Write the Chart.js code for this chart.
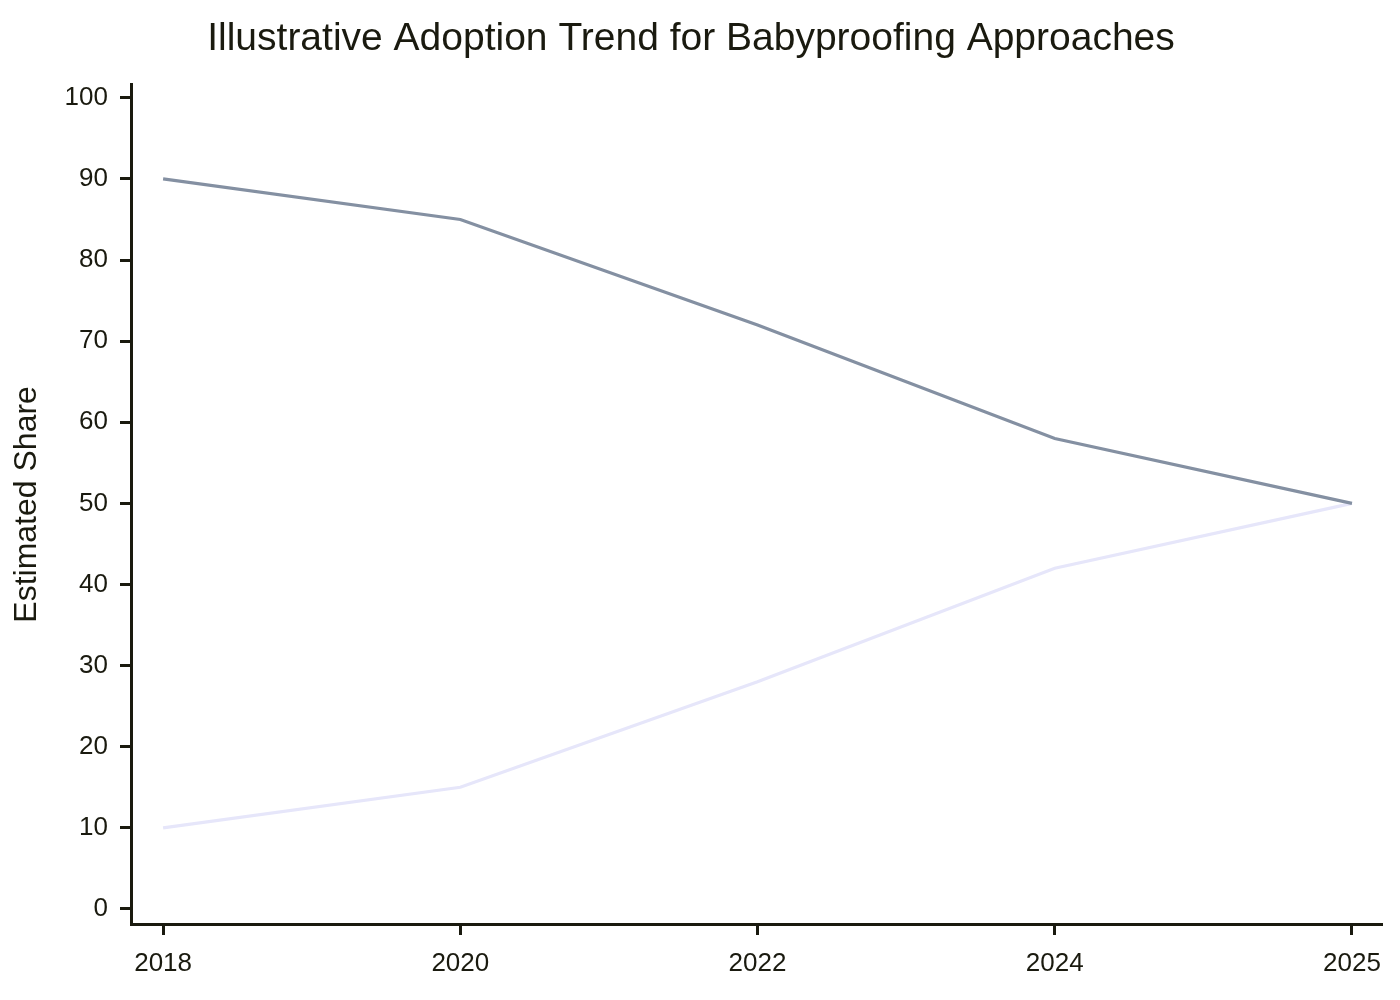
<!DOCTYPE html>
<html>
<head>
<meta charset="utf-8">
<script src="https://cdn.jsdelivr.net/npm/chart.js@4"></script>
<style>
  html, body { margin: 0; padding: 0; background: #fff; }
  #wrap { width: 1400px; height: 1000px; }
</style>
</head>
<body>
<div id="wrap"><canvas id="trendChart" width="1400" height="1000"></canvas></div>
<script>
// data
const years = ["2018", "2020", "2022", "2024", "2025"];
const traditionalShare = [90, 85, 72, 58, 50];
const modernShare = [10, 15, 28, 42, 50];
const yTicks = [0, 10, 20, 30, 40, 50, 60, 70, 80, 90, 100];

const ink = '#1a1a0f';
const fontFamily = 'Liberation Sans, Arial, sans-serif';

const toPoints = (vals) => vals.map((v, i) => ({ x: i, y: v }));

new Chart(document.getElementById('trendChart'), {
    type: 'line',
    data: {
        datasets: [{
            label: 'Traditional',
            data: toPoints(traditionalShare),
            borderColor: '#8490a2',
            borderWidth: 3.2,
            pointRadius: 0,
            tension: 0,
            fill: false
        }, {
            label: 'Modern',
            data: toPoints(modernShare),
            borderColor: '#e6e6fa',
            borderWidth: 3.2,
            pointRadius: 0,
            tension: 0,
            fill: false
        }]
    },
    options: {
        responsive: false,
        animation: false,
        layout: { padding: { left: 0, right: 18, top: 0, bottom: 0 } },
        plugins: {
            legend: { display: false },
            tooltip: { enabled: false },
            title: {
                display: true,
                text: 'Illustrative Adoption Trend for Babyproofing Approaches',
                color: ink,
                font: { family: fontFamily, size: 39, weight: 'normal', lineHeight: 1.2 },
                padding: { top: 16, bottom: 22 }
            }
        },
        scales: {
            x: {
                type: 'linear',
                min: -0.108,
                max: 4.101,
                afterBuildTicks: (scale) => { scale.ticks = years.map((_, i) => ({ value: i })); },
                afterFit: (scale) => { scale.height = 76; },
                ticks: {
                    color: ink,
                    font: { family: fontFamily, size: 26 },
                    padding: 13,
                    maxRotation: 0,
                    callback: (v) => years[v]
                },
                grid: {
                    drawOnChartArea: false,
                    drawTicks: true,
                    tickLength: 11,
                    tickWidth: 3,
                    tickColor: ink
                },
                border: { display: true, color: ink, width: 3 }
            },
            y: {
                type: 'linear',
                min: -1.85,
                max: 101.6,
                afterBuildTicks: (scale) => { scale.ticks = yTicks.map(v => ({ value: v })); },
                afterFit: (scale) => { scale.width = 131; },
                title: {
                    display: true,
                    text: 'Estimated Share',
                    color: ink,
                    font: { family: fontFamily, size: 32, lineHeight: 1.2 },
                    padding: { top: 8, bottom: 0 }
                },
                ticks: {
                    color: ink,
                    font: { family: fontFamily, size: 26 },
                    padding: 12
                },
                grid: {
                    drawOnChartArea: false,
                    drawTicks: true,
                    tickLength: 11,
                    tickWidth: 3,
                    tickColor: ink
                },
                border: { display: true, color: ink, width: 3 }
            }
        }
    }
});
</script>
</body>
</html>
